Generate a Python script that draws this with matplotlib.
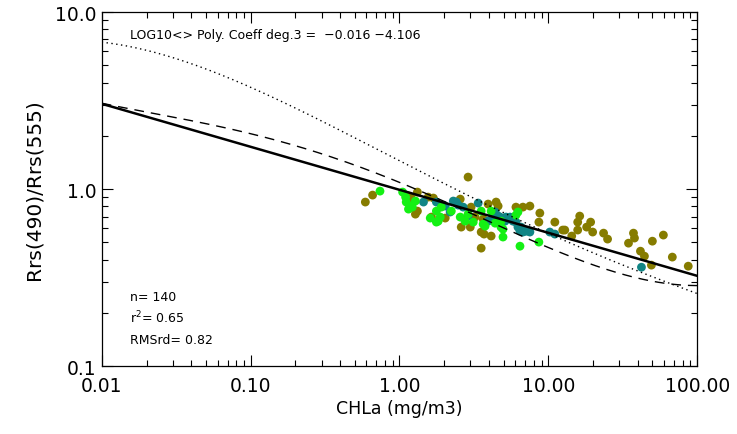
import numpy as np
import matplotlib
matplotlib.use("Agg")
import matplotlib.pyplot as plt
from matplotlib.ticker import FixedLocator, LogLocator, NullFormatter

# Match-up data: chlorophyll (mg/m3) vs Rrs(490)/Rrs(555), by data source
chl_a = [0.59, 0.66, 1.15, 1.20, 1.32, 1.32, 1.28, 1.56, 1.64, 1.69, 2.03, 2.56, 2.60,
         2.99, 2.89, 3.03, 3.22, 3.65, 3.54, 3.70, 3.54, 3.94, 4.46, 4.60, 4.13, 6.06,
         6.75, 7.52, 8.77, 8.64, 11.06, 12.50, 12.90, 14.36, 15.75, 16.25, 15.75, 18.09,
         19.24, 19.85, 23.50, 25.00, 34.56, 37.32, 37.90, 41.57, 44.21, 50.0, 59.26,
         49.25, 68.06, 87.06]
ratio_a = [0.845, 0.925, 0.913, 0.890, 0.962, 0.751, 0.722, 0.901, 0.695, 0.890, 0.686,
           0.878, 0.610, 0.610, 1.169, 0.791, 0.695, 0.677, 0.572, 0.557, 0.464, 0.823,
           0.845, 0.802, 0.543, 0.791, 0.791, 0.802, 0.732, 0.651, 0.651, 0.587, 0.587,
           0.543, 0.651, 0.704, 0.587, 0.610, 0.651, 0.572, 0.564, 0.522, 0.495, 0.564,
           0.529, 0.446, 0.418, 0.508, 0.550, 0.372, 0.413, 0.367]

chl_b = [1.45, 1.77, 2.30, 2.41, 2.19, 2.68, 2.89, 3.38, 3.94, 4.26, 4.74, 4.39, 5.12,
         5.20, 5.53, 5.79, 4.60, 5.61, 6.06, 6.25, 6.55, 6.45, 6.75, 6.96, 7.18, 7.52,
         10.23, 11.06, 42.22, 2.03, 2.48]
ratio_b = [0.845, 0.845, 0.856, 0.845, 0.742, 0.791, 0.704, 0.834, 0.659, 0.704, 0.695,
           0.742, 0.659, 0.695, 0.695, 0.659, 0.704, 0.677, 0.651, 0.610, 0.610, 0.579,
           0.572, 0.579, 0.579, 0.572, 0.572, 0.557, 0.362, 0.802, 0.812]

chl_c = [0.74, 1.05, 1.10, 1.19, 1.28, 1.11, 1.77, 1.61, 1.82, 1.77, 1.88, 1.91, 2.23,
         2.56, 2.76, 2.89, 3.13, 3.54, 3.65, 3.76, 4.13, 4.39, 4.81, 4.96, 4.96, 4.81,
         6.06, 6.25, 6.45, 8.64, 1.15, 1.22]
ratio_c = [0.974, 0.962, 0.901, 0.802, 0.856, 0.845, 0.751, 0.686, 0.659, 0.651, 0.695,
           0.791, 0.751, 0.695, 0.659, 0.722, 0.651, 0.751, 0.634, 0.618, 0.751, 0.642,
           0.659, 0.594, 0.536, 0.610, 0.713, 0.742, 0.476, 0.502, 0.771, 0.791]

# Model curves: log10(ratio) as polynomial in log10(chl), lowest order first
coef_fit = [-0.004, -0.243]
coef_dash = [0.038, -0.3428, -0.0563, 0.02133, 0.00983]
coef_dot = [0.16, -0.4317, 0.00667, 0.01917, -0.00417]

x_ticks = [0.01, 0.1, 1.0, 10.0, 100.0]
x_ticklabels = ["0.01", "0.10", "1.00", "10.00", "100.00"]
y_ticks = [0.1, 1.0, 10.0]
y_ticklabels = ["0.1", "1.0", "10.0"]

plt.rcParams["font.family"] = ["DejaVu Sans"]

fig = plt.figure(figsize=(7.37, 4.35), dpi=100)
ax = fig.add_axes([0.138, 0.156, 0.808, 0.814])

ax.scatter(chl_a, ratio_a, s=40, color="#867c00", edgecolors="none", zorder=2)
ax.scatter(chl_b, ratio_b, s=40, color="#118585", edgecolors="none", zorder=2)
ax.scatter(chl_c, ratio_c, s=40, color="#14f014", edgecolors="none", zorder=2)

u = np.linspace(-2, 2, 400)
xs = 10 ** u
def curve(c):
    return 10 ** np.polynomial.polynomial.polyval(u, c)

ax.plot(xs, curve(coef_fit), color="black", lw=1.8, zorder=3)
ax.plot(xs, curve(coef_dash), color="black", lw=1.0, dashes=(7, 5), zorder=3)
ax.plot(xs, curve(coef_dot), color="black", lw=1.0, dashes=(1, 2.5), zorder=3)

ax.set_xscale("log")
ax.set_yscale("log")
ax.set_xlim(0.01, 100)
ax.set_ylim(0.1, 10)

ax.xaxis.set_major_locator(FixedLocator(x_ticks))
ax.set_xticklabels(x_ticklabels)
ax.yaxis.set_major_locator(FixedLocator(y_ticks))
ax.set_yticklabels(y_ticklabels)
ax.xaxis.set_minor_locator(LogLocator(base=10, subs=np.arange(2, 10)))
ax.yaxis.set_minor_locator(LogLocator(base=10, subs=np.arange(2, 10)))
ax.xaxis.set_minor_formatter(NullFormatter())
ax.yaxis.set_minor_formatter(NullFormatter())

ax.tick_params(which="both", direction="in", top=True, right=True,
               labelsize=13.5, colors="black")
ax.tick_params(axis="x", pad=7)
ax.tick_params(axis="y", pad=4)
ax.tick_params(which="major", length=8, width=0.8)
ax.tick_params(which="minor", length=4, width=0.8)
for sp in ax.spines.values():
    sp.set_linewidth(0.9)

ax.set_xlabel("CHLa (mg/m3)", fontsize=12.5, labelpad=3)
ax.set_ylabel("Rrs(490)/Rrs(555)", fontsize=14.5, labelpad=8)

ax.text(0.047, 0.938, "LOG10<> Poly. Coeff deg.3 =  \u22120.016 \u22124.106",
        transform=ax.transAxes, fontsize=9, va="center", ha="left")
ax.text(0.048, 0.198, "n= 140", transform=ax.transAxes, fontsize=9, va="center")
ax.text(0.048, 0.138, "r$^2$= 0.65", transform=ax.transAxes, fontsize=9, va="center")
ax.text(0.048, 0.076, "RMSrd= 0.82", transform=ax.transAxes, fontsize=9, va="center")

fig.savefig("out.png", dpi=100, facecolor="white")
